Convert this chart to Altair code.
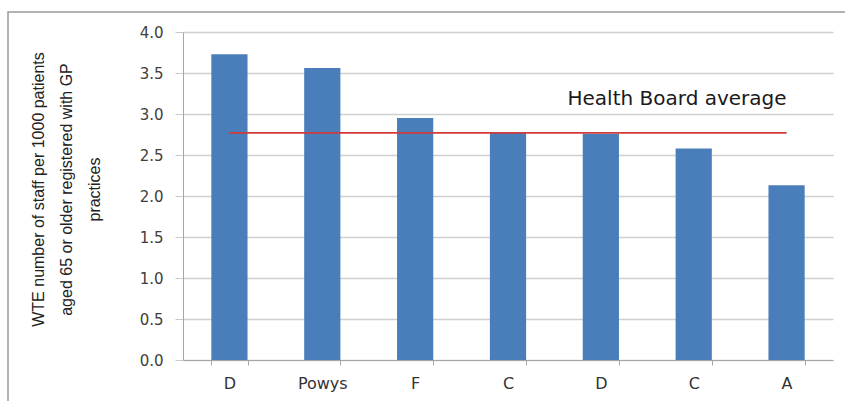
import altair as alt
import pandas as pd

# Practice groups (in chart order) and WTE staff per 1000 patients aged 65+
groups = ["D", "Powys", "F", "C", "D", "C", "A"]
wte_values = [3.73, 3.56, 2.95, 2.78, 2.76, 2.58, 2.13]
board_average = 2.77
y_ticks = [0.0, 0.5, 1.0, 1.5, 2.0, 2.5, 3.0, 3.5, 4.0]

bars_df = pd.DataFrame({"pos": list(range(len(groups))), "group": groups, "wte": wte_values})
avg_df = pd.DataFrame({"pos": [0, len(groups) - 1], "wte": [board_average, board_average]})
label_df = pd.DataFrame({"pos": [len(groups) - 1], "wte": [3.18], "txt": ["Health Board average"]})

label_expr = "[" + ",".join(f"'{g}'" for g in groups) + "][datum.value]"

W, H = 650, 328
FONT = "DejaVu Sans"

x_enc = alt.X(
    "pos:O",
    title=None,
    scale=alt.Scale(paddingInner=0.61, paddingOuter=0.305),
    axis=alt.Axis(
        labelExpr=label_expr, labelAngle=0, labelFont=FONT, labelFontSize=16,
        labelColor="#333333", labelPadding=10, tickBand="extent", tickSize=5,
        tickColor="#a6a6a6", domainColor="#a6a6a6", grid=False,
    ),
)
y_scale = alt.Scale(domain=[0, 4])

bars = alt.Chart(bars_df).mark_bar(color="#4a7ebb").encode(
    x=x_enc,
    y=alt.Y(
        "wte:Q",
        scale=y_scale,
        axis=alt.Axis(
            values=y_ticks, format=".1f", labelFont=FONT, labelFontSize=15,
            labelColor="#404040", labelPadding=12, tickSize=8,
            tickColor="#c8c8c8", domainColor="#a6a6a6", gridColor="#d0d0d0",
            gridWidth=1.5,
            title=["WTE number of staff per 1000 patients",
                   "aged 65 or older registered with GP",
                   "practices"],
            titleFont="Liberation Sans", titleFontSize=16,
            titleFontWeight="normal", titleColor="#222222",
            titleAngle=-90, titleX=-153, titleY=157, titleAlign="center",
            titleBaseline="top", titleLineHeight=28,
        ),
    ),
)

avg_line = alt.Chart(avg_df).mark_line(color="#d23a3a", strokeWidth=1.6).encode(
    x="pos:O", y=alt.Y("wte:Q", scale=y_scale)
)

avg_label = alt.Chart(label_df).mark_text(
    align="right", baseline="middle", font=FONT, fontSize=20, color="#1a1a1a"
).encode(x="pos:O", y=alt.Y("wte:Q", scale=y_scale), text="txt:N")

# Outer frame around the whole figure (right and bottom edges fall off-canvas)
frame = alt.Chart(pd.DataFrame({"k": [0]})).mark_rect(
    fill=None, stroke="#9a9a9a", strokeWidth=1.5
).encode(
    x=alt.value(-175), x2=alt.value(672), y=alt.value(-20), y2=alt.value(380)
)

chart = alt.layer(frame, bars, avg_line, avg_label).properties(
    width=W, height=H,
    autosize=alt.AutoSizeParams(type="none"),
    padding={"left": 183, "top": 32, "right": 12, "bottom": 41},
    background="white",
).configure_view(stroke=None)

chart.save("out.html", embed_options={"renderer": "svg", "actions": False})
